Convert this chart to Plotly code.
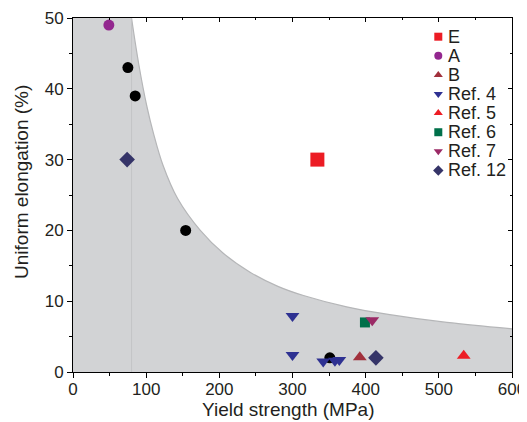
import plotly.graph_objects as go

# boundary curve of the shaded region
curve_x = [80, 90, 101, 110, 123, 143, 174, 205, 242, 280, 315, 374, 433, 511, 600]
curve_y = [50, 43.4, 37.5, 33.7, 29.2, 24.5, 20.0, 16.8, 14.1, 12.1, 10.8, 9.2, 8.1, 7.0, 6.1]

e_x, e_y = [334], [30]
a_x, a_y = [49], [49]
b_x, b_y = [392], [2.1]
ref4_x = [300, 300, 342, 358, 364]
ref4_y = [7.9, 2.4, 1.5, 1.6, 1.7]
ref5_x, ref5_y = [534], [2.3]
ref6_x, ref6_y = [399], [7.0]
ref7_x, ref7_y = [409], [7.3]
ref12_x, ref12_y = [74, 414], [30, 2]
black_x = [75, 85, 154, 351]
black_y = [43, 39, 20, 2]

FONT = "Liberation Sans, Arial, sans-serif"
TXT = "#231f20"

fig = go.Figure()

# shaded region: block left of the cut-off plus area under the curve
fig.add_trace(go.Scatter(x=[0, curve_x[0]], y=[curve_y[0], curve_y[0]], mode="none",
                         fill="tozeroy", fillcolor="#d2d3d5",
                         hoverinfo="skip", showlegend=False))
fig.add_trace(go.Scatter(x=curve_x, y=curve_y, mode="lines", fill="tozeroy",
                         fillcolor="#d2d3d5",
                         line=dict(color="#b5b6b8", width=1.2, shape="spline", smoothing=1),
                         showlegend=False, hoverinfo="skip"))
fig.add_trace(go.Scatter(x=[curve_x[0], curve_x[0]], y=[0, curve_y[0]], mode="lines",
                         line=dict(color="#c4c5c7", width=1),
                         showlegend=False, hoverinfo="skip"))

series = [
    ("E", e_x, e_y, "square", "#ec1c24", 14),
    ("A", a_x, a_y, "circle", "#93278f", 11),
    ("B", b_x, b_y, "triangle-up", "#a1303c", 12),
    ("Ref. 4", ref4_x, ref4_y, "triangle-down", "#2e3192", 12),
    ("Ref. 5", ref5_x, ref5_y, "triangle-up", "#ed1c24", 12),
    ("Ref. 6", ref6_x, ref6_y, "square", "#00704a", 10),
    ("Ref. 7", ref7_x, ref7_y, "triangle-down", "#9b2a66", 12),
    ("Ref. 12", ref12_x, ref12_y, "diamond", "#353468", 12),
]

fig.add_trace(go.Scatter(x=black_x, y=black_y, mode="markers",
                         marker=dict(symbol="circle", color="black", size=11),
                         showlegend=False))

for name, xs, ys, sym, col, sz in series:
    fig.add_trace(go.Scatter(x=xs, y=ys, mode="markers", name=name,
                             marker=dict(symbol=sym, color=col, size=sz),
                             showlegend=False))

# hand-built legend on its own overlay axes (pixel units inside plot area)
for i, (name, xs, ys, sym, col, sz) in enumerate(series):
    fig.add_trace(go.Scatter(x=[365.3], y=[-i], xaxis="x3", yaxis="y3", mode="markers",
                             marker=dict(symbol=sym, color=col, size=8),
                             showlegend=False, hoverinfo="skip"))
    fig.add_annotation(x=373, y=-i, xref="x3", yref="y3", text=name, showarrow=False,
                       xanchor="left", yanchor="middle",
                       font=dict(size=18, family=FONT, color=TXT))

# axis titles
fig.add_annotation(x=0.49, y=-0.107, xref="paper", yref="paper",
                   text="Yield strength (MPa)", showarrow=False,
                   xanchor="center", yanchor="middle",
                   font=dict(size=19, family=FONT, color=TXT))
fig.add_annotation(x=-0.116, y=0.537, xref="paper", yref="paper",
                   text="Uniform elongation (%)", showarrow=False, textangle=-90,
                   xanchor="center", yanchor="middle",
                   font=dict(size=19, family=FONT, color=TXT))

axis_common = dict(showgrid=False, zeroline=False, linecolor="black", linewidth=1,
                   tickcolor="black", ticks="outside", ticklen=5, automargin=False,
                   ticklabeloverflow="allow",
                   tickfont=dict(size=17, color=TXT, family=FONT))

fig.update_layout(
    width=519, height=414,
    margin=dict(l=65, r=15, t=10, b=50),
    plot_bgcolor="white", paper_bgcolor="white",
    font=dict(family=FONT, size=18, color=TXT),
    showlegend=False,
    xaxis=dict(range=[0, 600], dtick=100, mirror=True, ticklabelstandoff=-3,
               minor=dict(dtick=50, ticks="outside", ticklen=3, tickcolor="black"),
               **axis_common),
    yaxis=dict(range=[0, 50], dtick=10, mirror=True,
               minor=dict(dtick=5, ticks="outside", ticklen=3, tickcolor="black"),
               **axis_common),
    xaxis2=dict(range=[0, 600], overlaying="x", side="top", dtick=100,
                ticks="inside", ticklen=4, showticklabels=False, showgrid=False,
                zeroline=False, tickcolor="black", automargin=False,
                minor=dict(dtick=50, ticks="inside", ticklen=2, tickcolor="black")),
    yaxis2=dict(range=[0, 50], overlaying="y", side="right", dtick=10,
                ticks="inside", ticklen=4, showticklabels=False, showgrid=False,
                zeroline=False, tickcolor="black", automargin=False,
                minor=dict(dtick=5, ticks="inside", ticklen=2, tickcolor="black")),
    xaxis3=dict(range=[0, 439], overlaying="x", visible=False, fixedrange=True),
    yaxis3=dict(range=[-17.55, 0.979], overlaying="y", visible=False, fixedrange=True),
)

# dummy trace to activate top/right tick axes
fig.add_trace(go.Scatter(x=[None], y=[None], xaxis="x2", yaxis="y2",
                         showlegend=False, hoverinfo="skip"))

fig.write_html("out.html")
